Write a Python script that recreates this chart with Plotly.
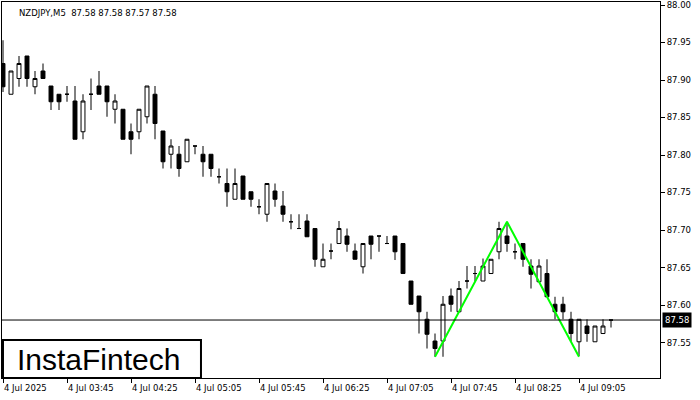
import plotly.graph_objects as go

symbol_title = "NZDJPY,M5  87.58 87.58 87.57 87.58"

opens = [87.922, 87.881, 87.902, 87.932, 87.891, 87.912, 87.892, 87.881, 87.881, 87.872,
         87.831, 87.881, 87.892, 87.892, 87.861, 87.861, 87.831, 87.831, 87.851, 87.881,
         87.832, 87.801, 87.801, 87.791, 87.812, 87.801, 87.801, 87.771, 87.762, 87.741,
         87.772, 87.751, 87.731, 87.721, 87.752, 87.732, 87.711, 87.702, 87.712, 87.702,
         87.651, 87.672, 87.682, 87.692, 87.672, 87.651, 87.692, 87.692, 87.682, 87.692,
         87.682, 87.632, 87.612, 87.581, 87.552, 87.552, 87.612, 87.591, 87.632, 87.642,
         87.632, 87.642, 87.671, 87.692, 87.671, 87.682, 87.652, 87.631, 87.642, 87.601,
         87.601, 87.581, 87.551, 87.572, 87.551, 87.562, 87.58]
highs = [87.953, 87.912, 87.932, 87.932, 87.912, 87.922, 87.892, 87.881, 87.892, 87.892,
         87.881, 87.902, 87.912, 87.892, 87.881, 87.861, 87.842, 87.861, 87.892, 87.892,
         87.832, 87.821, 87.812, 87.821, 87.812, 87.812, 87.801, 87.782, 87.782, 87.782,
         87.772, 87.751, 87.741, 87.762, 87.762, 87.752, 87.721, 87.721, 87.721, 87.702,
         87.682, 87.682, 87.712, 87.702, 87.682, 87.682, 87.692, 87.692, 87.692, 87.692,
         87.682, 87.632, 87.612, 87.591, 87.562, 87.612, 87.622, 87.632, 87.652, 87.652,
         87.662, 87.661, 87.711, 87.711, 87.682, 87.682, 87.661, 87.661, 87.661, 87.611,
         87.611, 87.591, 87.581, 87.581, 87.572, 87.581, 87.58]
lows = [87.884, 87.881, 87.891, 87.891, 87.881, 87.902, 87.860, 87.860, 87.871, 87.821,
        87.821, 87.860, 87.881, 87.851, 87.842, 87.821, 87.801, 87.821, 87.842, 87.821,
        87.782, 87.782, 87.771, 87.791, 87.801, 87.771, 87.771, 87.762, 87.731, 87.741,
        87.741, 87.731, 87.721, 87.711, 87.731, 87.711, 87.701, 87.702, 87.691, 87.651,
        87.651, 87.661, 87.682, 87.671, 87.661, 87.642, 87.661, 87.671, 87.682, 87.660,
        87.642, 87.601, 87.562, 87.542, 87.531, 87.531, 87.591, 87.591, 87.622, 87.632,
        87.632, 87.642, 87.661, 87.671, 87.661, 87.651, 87.622, 87.631, 87.611, 87.581,
        87.581, 87.552, 87.532, 87.551, 87.551, 87.562, 87.57]
closes = [87.891, 87.912, 87.922, 87.902, 87.902, 87.902, 87.871, 87.871, 87.881, 87.821,
          87.872, 87.881, 87.881, 87.871, 87.872, 87.821, 87.821, 87.861, 87.892, 87.842,
          87.791, 87.812, 87.782, 87.821, 87.812, 87.791, 87.782, 87.771, 87.751, 87.762,
          87.741, 87.741, 87.731, 87.762, 87.741, 87.721, 87.711, 87.702, 87.691, 87.661,
          87.661, 87.672, 87.702, 87.681, 87.661, 87.682, 87.681, 87.692, 87.682, 87.671,
          87.642, 87.601, 87.591, 87.561, 87.542, 87.601, 87.601, 87.622, 87.632, 87.642,
          87.652, 87.661, 87.702, 87.682, 87.671, 87.661, 87.641, 87.652, 87.611, 87.591,
          87.591, 87.562, 87.581, 87.562, 87.572, 87.572, 87.58]

bar_index = list(range(len(opens)))

tick_index = [0, 8, 16, 24, 32, 40, 48, 56, 64, 72]
tick_labels = ["4 Jul 2025", "4 Jul 03:45", "4 Jul 04:25", "4 Jul 05:05", "4 Jul 05:45",
               "4 Jul 06:25", "4 Jul 07:05", "4 Jul 07:45", "4 Jul 08:25", "4 Jul 09:05"]

price_ticks = [88.00, 87.95, 87.90, 87.85, 87.80, 87.75, 87.70, 87.65, 87.60, 87.55]

pattern_index = [54, 63, 72]
pattern_price = [87.531, 87.711, 87.531]

bid_price = 87.58

font_fam = "DejaVu Sans"

fig = go.Figure()
fig.add_trace(go.Candlestick(
    x=bar_index, open=opens, high=highs, low=lows, close=closes,
    increasing=dict(fillcolor="white", line=dict(color="black", width=1)),
    decreasing=dict(fillcolor="black", line=dict(color="black", width=1)),
    whiskerwidth=0, showlegend=False, hoverinfo="skip",
))
fig.add_trace(go.Scatter(
    x=pattern_index, y=pattern_price, mode="lines",
    line=dict(color="#00ff00", width=2), showlegend=False, hoverinfo="skip",
))

fig.add_shape(type="line", xref="paper", x0=0, x1=1, yref="y", y0=bid_price, y1=bid_price,
              line=dict(color="black", width=1))

# x labels, left-aligned at ticks
for xi, lab in zip(tick_index, tick_labels):
    fig.add_annotation(x=xi, xref="x", y=0, yref="paper", text=lab, showarrow=False,
                       xanchor="left", yanchor="top", yshift=-3, xshift=-1,
                       font=dict(family=font_fam, size=8.5, color="black"))

# bid price label
fig.add_annotation(x=1, xref="paper", y=bid_price, yref="y", text=f"{bid_price:.2f}",
                   showarrow=False, xanchor="left", yanchor="middle", xshift=2,
                   bgcolor="black", borderpad=2,
                   font=dict(family=font_fam, size=8.5, color="white"))

# title
fig.add_annotation(x=15 / 658, xref="paper", y=1, yref="paper", text=symbol_title, showarrow=False,
                   xanchor="left", yanchor="top", yshift=-4,
                   font=dict(family=font_fam, size=8.5, color="black"))

# logo box
fig.add_shape(type="rect", xref="paper", yref="paper", x0=0.0015, x1=0.3024, y0=0.0, y1=0.101,
              line=dict(color="black", width=2), fillcolor="white", layer="above")
fig.add_annotation(x=0.147, xref="paper", y=0.05, yref="paper", text="InstaFintech",
                   showarrow=False, xanchor="center", yanchor="middle",
                   font=dict(family="Liberation Sans", size=30, color="black"))

fig.update_layout(
    width=700, height=400,
    margin=dict(l=2, r=40, t=2, b=22, autoexpand=False),
    paper_bgcolor="white", plot_bgcolor="white",
    xaxis=dict(range=[-0.125, 82.125], rangeslider=dict(visible=False),
               showgrid=False, zeroline=False, showline=True, mirror=True,
               linecolor="black", linewidth=1, automargin=False,
               tickvals=tick_index, ticktext=[""] * len(tick_index),
               ticks="outside", ticklen=4, tickcolor="black", showticklabels=False),
    yaxis=dict(range=[87.5027, 88.004], side="right", showgrid=False, zeroline=False,
               showline=True, mirror=True, linecolor="black", linewidth=1, automargin=False,
               tickvals=price_ticks, tickformat=".2f", ticks="outside", ticklen=4,
               tickcolor="black", ticklabeloverflow="allow",
               tickfont=dict(family=font_fam, size=8.5, color="black")),
)

fig.write_html("out.html", config={"displayModeBar": False},
               post_script=["document.body.style.margin='0';document.body.style.overflow='hidden';"])
